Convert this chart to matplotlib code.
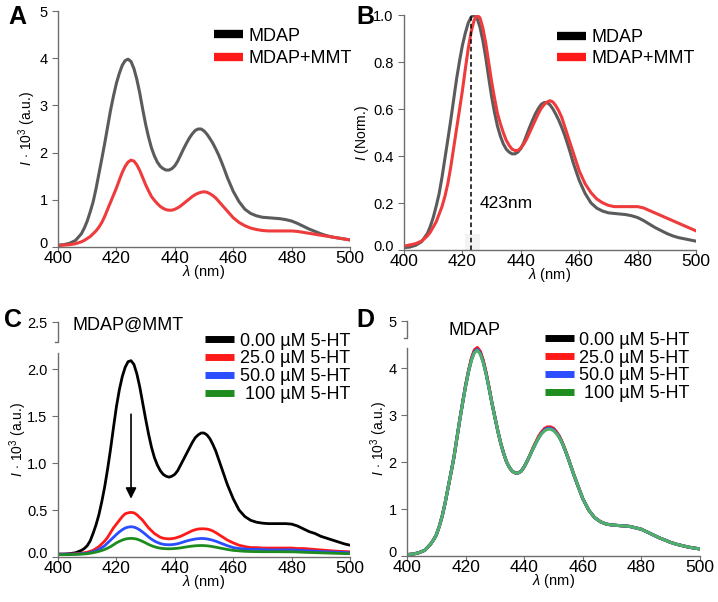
import matplotlib
matplotlib.use("Agg")
import matplotlib.pyplot as plt
import matplotlib.transforms as mtransforms
import numpy as np
from matplotlib.lines import Line2D

plt.rcParams['font.family'] = ['Liberation Sans', 'DejaVu Sans']
plt.rcParams['mathtext.fontset'] = 'custom'
plt.rcParams['mathtext.rm'] = 'Liberation Sans'
plt.rcParams['mathtext.it'] = 'Liberation Sans:italic'

# длина волны, нм: шаг 2 нм по краям, 1 нм в области пиков
wl = np.concatenate([np.arange(400, 408, 2), np.arange(408, 459, 1),
                     np.arange(460, 501, 2)])

# A: спектры MDAP и MDAP+MMT
mdap = [0.04, 0.05, 0.08, 0.14,
        0.28, 0.40, 0.55, 0.74, 0.95, 1.23, 1.55, 1.87, 2.20, 2.55,
        2.90, 3.20, 3.47, 3.68, 3.85, 3.95, 3.98, 3.93, 3.78, 3.55,
        3.26, 2.92, 2.60, 2.33, 2.10, 1.93, 1.80, 1.71, 1.66, 1.63,
        1.63, 1.66, 1.72, 1.82, 1.95, 2.08, 2.20, 2.31, 2.40, 2.47,
        2.50, 2.50, 2.46, 2.39, 2.30, 2.20, 2.08, 1.95, 1.80, 1.64, 1.47,
        1.18, 0.96, 0.80, 0.71, 0.66, 0.63, 0.62, 0.61, 0.60, 0.58,
        0.55, 0.50, 0.44, 0.38, 0.33, 0.28, 0.24, 0.21, 0.19, 0.17, 0.15]
mdap_mmt = [0.03, 0.04, 0.05, 0.07,
            0.11, 0.14, 0.18, 0.22, 0.28, 0.34, 0.42, 0.52, 0.65, 0.80,
            0.95, 1.10, 1.25, 1.42, 1.58, 1.71, 1.80, 1.84, 1.82, 1.74,
            1.62, 1.47, 1.32, 1.19, 1.07, 0.99, 0.92, 0.86, 0.82, 0.79,
            0.78, 0.78, 0.80, 0.83, 0.87, 0.92, 0.97, 1.02, 1.07, 1.11,
            1.14, 1.16, 1.17, 1.16, 1.13, 1.09, 1.04, 0.97, 0.90, 0.83, 0.76,
            0.62, 0.52, 0.45, 0.40, 0.37, 0.35, 0.34, 0.34, 0.34, 0.34,
            0.34, 0.33, 0.31, 0.29, 0.27, 0.25, 0.23, 0.21, 0.19, 0.17, 0.15]
peak_nm = 423

# C: MDAP@MMT + 5-HT
c_0 = [0.03, 0.03, 0.035, 0.045,
       0.07, 0.09, 0.12, 0.17, 0.25, 0.34, 0.45, 0.59, 0.75, 0.94,
       1.15, 1.38, 1.60, 1.78, 1.92, 2.02, 2.08, 2.09, 2.05, 1.95,
       1.81, 1.64, 1.47, 1.31, 1.17, 1.06, 0.98, 0.92, 0.88, 0.86,
       0.85, 0.86, 0.88, 0.92, 0.98, 1.04, 1.10, 1.16, 1.22, 1.27,
       1.30, 1.32, 1.32, 1.30, 1.26, 1.20, 1.13, 1.04, 0.95, 0.86, 0.77,
       0.62, 0.50, 0.43, 0.39, 0.37, 0.36, 0.355, 0.355, 0.355, 0.355,
       0.35, 0.33, 0.30, 0.27, 0.25, 0.22, 0.20, 0.18, 0.16, 0.14, 0.125]
c_25 = [0.03, 0.03, 0.03, 0.035,
        0.04, 0.045, 0.05, 0.06, 0.07, 0.09, 0.11, 0.14, 0.17, 0.21,
        0.26, 0.31, 0.35, 0.39, 0.43, 0.46, 0.47, 0.475, 0.47, 0.45,
        0.42, 0.39, 0.35, 0.31, 0.28, 0.25, 0.23, 0.21, 0.20, 0.195,
        0.193, 0.195, 0.20, 0.21, 0.22, 0.235, 0.25, 0.265, 0.28, 0.29,
        0.298, 0.30, 0.30, 0.297, 0.29, 0.277, 0.26, 0.24, 0.22, 0.20, 0.18,
        0.15, 0.125, 0.11, 0.10, 0.10, 0.095, 0.095, 0.095, 0.095, 0.095,
        0.095, 0.09, 0.09, 0.085, 0.08, 0.075, 0.07, 0.065, 0.06, 0.058, 0.055]
c_50 = [0.03, 0.03, 0.03, 0.03,
        0.035, 0.037, 0.04, 0.047, 0.055, 0.066, 0.08, 0.099, 0.12, 0.15,
        0.18, 0.21, 0.24, 0.267, 0.29, 0.308, 0.318, 0.322, 0.318, 0.306,
        0.288, 0.265, 0.24, 0.213, 0.19, 0.17, 0.155, 0.143, 0.135, 0.131,
        0.13, 0.131, 0.135, 0.141, 0.15, 0.16, 0.17, 0.178, 0.185, 0.191,
        0.195, 0.197, 0.196, 0.192, 0.186, 0.178, 0.168, 0.156, 0.144, 0.132, 0.12,
        0.10, 0.09, 0.085, 0.08, 0.08, 0.078, 0.076, 0.075, 0.075, 0.075,
        0.075, 0.072, 0.068, 0.065, 0.062, 0.058, 0.055, 0.052, 0.05, 0.048, 0.045]
c_100 = [0.025, 0.025, 0.025, 0.028,
         0.03, 0.032, 0.035, 0.04, 0.045, 0.052, 0.06, 0.069, 0.08, 0.094,
         0.11, 0.13, 0.15, 0.166, 0.18, 0.19, 0.196, 0.198, 0.196, 0.19,
         0.179, 0.165, 0.15, 0.134, 0.12, 0.109, 0.10, 0.094, 0.09, 0.088,
         0.087, 0.088, 0.09, 0.093, 0.097, 0.102, 0.107, 0.112, 0.116, 0.119,
         0.121, 0.122, 0.121, 0.119, 0.115, 0.11, 0.104, 0.098, 0.092, 0.086, 0.08,
         0.07, 0.065, 0.06, 0.058, 0.057, 0.056, 0.056, 0.056, 0.056, 0.055,
         0.055, 0.053, 0.05, 0.048, 0.046, 0.044, 0.042, 0.04, 0.038, 0.036, 0.035]

# D: MDAP + 5-HT
d_0 = [0.03, 0.04, 0.07, 0.12,
       0.25, 0.34, 0.45, 0.63, 0.85, 1.13, 1.45, 1.77, 2.10, 2.50,
       2.90, 3.27, 3.63, 3.94, 4.20, 4.37, 4.42, 4.34, 4.15, 3.89,
       3.58, 3.25, 2.95, 2.66, 2.40, 2.18, 2.00, 1.88, 1.80, 1.77,
       1.77, 1.81, 1.90, 2.02, 2.15, 2.29, 2.42, 2.54, 2.63, 2.70,
       2.73, 2.73, 2.70, 2.63, 2.54, 2.41, 2.25, 2.08, 1.90, 1.72, 1.55,
       1.22, 0.98, 0.82, 0.73, 0.68, 0.66, 0.65, 0.64, 0.63, 0.60,
       0.57, 0.51, 0.45, 0.39, 0.34, 0.29, 0.25, 0.22, 0.19, 0.17, 0.15]
d_25 = [0.03, 0.04, 0.07, 0.12,
        0.25, 0.34, 0.45, 0.63, 0.85, 1.13, 1.45, 1.77, 2.10, 2.50,
        2.90, 3.28, 3.64, 3.95, 4.21, 4.39, 4.44, 4.36, 4.17, 3.90,
        3.59, 3.26, 2.96, 2.66, 2.40, 2.18, 2.00, 1.88, 1.80, 1.77,
        1.77, 1.81, 1.90, 2.02, 2.16, 2.30, 2.43, 2.56, 2.65, 2.72,
        2.75, 2.75, 2.72, 2.65, 2.55, 2.42, 2.26, 2.09, 1.90, 1.72, 1.55,
        1.22, 0.98, 0.82, 0.73, 0.68, 0.66, 0.65, 0.64, 0.63, 0.60,
        0.57, 0.51, 0.45, 0.39, 0.34, 0.29, 0.25, 0.22, 0.19, 0.17, 0.15]
d_50 = [0.03, 0.04, 0.07, 0.12,
        0.25, 0.34, 0.45, 0.63, 0.85, 1.13, 1.45, 1.77, 2.10, 2.50,
        2.90, 3.27, 3.62, 3.93, 4.18, 4.35, 4.40, 4.32, 4.13, 3.88,
        3.57, 3.25, 2.95, 2.66, 2.40, 2.18, 2.00, 1.88, 1.80, 1.77,
        1.77, 1.81, 1.90, 2.02, 2.15, 2.28, 2.41, 2.52, 2.62, 2.69,
        2.72, 2.72, 2.69, 2.62, 2.53, 2.40, 2.25, 2.08, 1.90, 1.72, 1.55,
        1.22, 0.98, 0.82, 0.73, 0.68, 0.66, 0.65, 0.64, 0.63, 0.60,
        0.57, 0.51, 0.45, 0.39, 0.34, 0.29, 0.25, 0.22, 0.19, 0.17, 0.15]
d_100 = [0.03, 0.04, 0.07, 0.12,
         0.25, 0.34, 0.45, 0.63, 0.85, 1.13, 1.45, 1.77, 2.10, 2.50,
         2.90, 3.27, 3.62, 3.93, 4.17, 4.33, 4.38, 4.30, 4.12, 3.87,
         3.57, 3.25, 2.95, 2.66, 2.40, 2.18, 2.00, 1.88, 1.80, 1.77,
         1.77, 1.81, 1.90, 2.02, 2.15, 2.28, 2.41, 2.52, 2.61, 2.67,
         2.70, 2.70, 2.67, 2.61, 2.52, 2.40, 2.25, 2.08, 1.90, 1.72, 1.55,
         1.22, 0.98, 0.82, 0.73, 0.68, 0.66, 0.65, 0.64, 0.63, 0.60,
         0.57, 0.51, 0.45, 0.39, 0.34, 0.29, 0.25, 0.22, 0.19, 0.17, 0.15]

labels_ht = ['0.00 µM 5-HT', '25.0 µM 5-HT', '50.0 µM 5-HT', ' 100 µM 5-HT']
ht_colors = ['black', '#ff1a1a', '#2a4dff', '#1e8c1e']
d_colors = ['black', '#ff1a1a', '#2a4dff', '#4fb068']

SPINE = '#6e6e6e'
YLAB_I = r'$I\,\cdot\,10^3$ (a.u.)'


def style(ax, yticks, ylim, broken=None):
    for s in ['top', 'right']:
        ax.spines[s].set_visible(False)
    for s in ['left', 'bottom']:
        ax.spines[s].set_color(SPINE)
        ax.spines[s].set_linewidth(1.0)
    ax.set_xlim(400, 500)
    ax.set_ylim(*ylim)
    ax.set_xticks([400, 420, 440, 460, 480, 500])
    ax.set_yticks(yticks)
    ax.tick_params(axis='x', labelsize=12.5, length=3.5, color=SPINE, pad=-0.5)
    ax.tick_params(axis='y', labelsize=10.5, length=4, color=SPINE, pad=3.5)
    ax.set_xlabel(r'$\lambda$ (nm)', fontsize=10.5, labelpad=-2)
    if broken is not None:
        lo, hi = broken
        ax.spines['left'].set_bounds(ylim[0], lo)
        tr = ax.get_yaxis_transform()
        ax.plot([0, 0, -0.012], [ylim[1], hi, hi], transform=tr,
                color=SPINE, lw=1.0, clip_on=False)


def lift_zero(ax):
    # подпись "0" чуть выше, чтобы не налезала на "400"
    lab = ax.get_yticklabels()[0]
    off = mtransforms.ScaledTranslation(0, 3 / 72, ax.figure.dpi_scale_trans)
    lab.set_transform(lab.get_transform() + off)


def legend(ax, handles, labels, x, y, fs=13, lw=6, sp=0.3):
    hs = [Line2D([], [], color=c, lw=lw, solid_capstyle='butt') for c in handles]
    ax.legend(hs, labels, loc='upper left', bbox_to_anchor=(x, y),
              frameon=False, fontsize=fs, handlelength=1.6, handletextpad=0.3,
              labelspacing=sp, borderpad=0, borderaxespad=0)


def curve(ax, ys, color, lw=2.2):
    ax.plot(wl, ys, color=color, lw=lw, solid_joinstyle='round')


fig = plt.figure(figsize=(7.18, 6.02), dpi=100)
axA = fig.add_axes([0.0808, 0.5897, 0.4067, 0.392])
axB = fig.add_axes([0.5627, 0.5847, 0.4067, 0.390])
axC = fig.add_axes([0.0808, 0.0748, 0.4067, 0.390])
axD = fig.add_axes([0.5669, 0.0764, 0.4080, 0.390])

# A
curve(axA, mdap, '#5b5b5b')
curve(axA, mdap_mmt, '#ef3b3b')
style(axA, [0, 1, 2, 3, 4, 5], (0, 5))
axA.set_ylabel(YLAB_I, fontsize=10)
axA.yaxis.set_label_coords(-0.068, 0.5)
legend(axA, ['black', '#ff1a1a'], ['MDAP', 'MDAP+MMT'], 0.535, 0.93)

# B
mdap_n = np.array(mdap) / max(mdap)
mdap_mmt_n = np.array(mdap_mmt) / max(mdap_mmt)
axB.axvspan(421, 426, 0, 0.07, color='#f3f3f3', lw=0)
curve(axB, mdap_n, '#5b5b5b')
curve(axB, mdap_mmt_n, '#ef3b3b')
axB.vlines(peak_nm, 0, 1.0, colors='black', linestyles=(0, (3, 2)), lw=1.1)
axB.text(peak_nm + 3, 0.2, f'{peak_nm}nm', fontsize=12.5, va='center')
style(axB, [0.0, 0.2, 0.4, 0.6, 0.8, 1.0], (0, 1.0))
axB.set_yticklabels(['0.0', '0.2', '0.4', '0.6', '0.8', '1.0'])
axB.set_ylabel(r'$I$ (Norm.)', fontsize=10)
axB.yaxis.set_label_coords(-0.113, 0.5)
legend(axB, ['black', '#ff1a1a'], ['MDAP', 'MDAP+MMT'], 0.525, 0.94, sp=0.2)

# C
for ys, c in zip([c_0, c_25, c_50, c_100], ht_colors):
    curve(axC, ys, c, lw=2.0)
style(axC, [0.0, 0.5, 1.0, 1.5, 2.0, 2.5], (0, 2.5), broken=(2.17, 2.29))
axC.set_yticklabels(['0.0', '0.5', '1.0', '1.5', '2.0', '2.5'])
axC.set_ylabel(YLAB_I, fontsize=10)
axC.yaxis.set_label_coords(-0.1, 0.5)
axC.text(405, 2.47, 'MDAP@MMT', fontsize=13, va='center')
axC.annotate('', xy=(425, 0.62), xytext=(425, 1.52),
             arrowprops=dict(arrowstyle='-|>', color='black', lw=1.2,
                             mutation_scale=16, shrinkA=0, shrinkB=0))
legend(axC, ht_colors, labels_ht, 0.505, 0.955, lw=5, sp=0.04)

# D
for ys, c in zip([d_0, d_25, d_50, d_100], d_colors):
    curve(axD, ys, c)
style(axD, [0, 1, 2, 3, 4, 5], (0, 5), broken=(4.43, 4.64))
axD.set_ylabel(YLAB_I, fontsize=10)
axD.yaxis.set_label_coords(-0.058, 0.5)
axD.text(414, 4.8, 'MDAP', fontsize=13, va='center')
legend(axD, ['black', '#ff1a1a', '#2a4dff', '#1e8c1e'], labels_ht,
       0.47, 0.955, lw=5, sp=0.04)

for ax in [axA, axB, axC, axD]:
    lift_zero(ax)

for lab, x, y in [('A', 0.012, 0.972), ('B', 0.497, 0.972),
                  ('C', 0.006, 0.468), ('D', 0.497, 0.468)]:
    fig.text(x, y, lab, fontsize=18, fontweight='bold', va='center')

fig.savefig('out.png', dpi=100)
